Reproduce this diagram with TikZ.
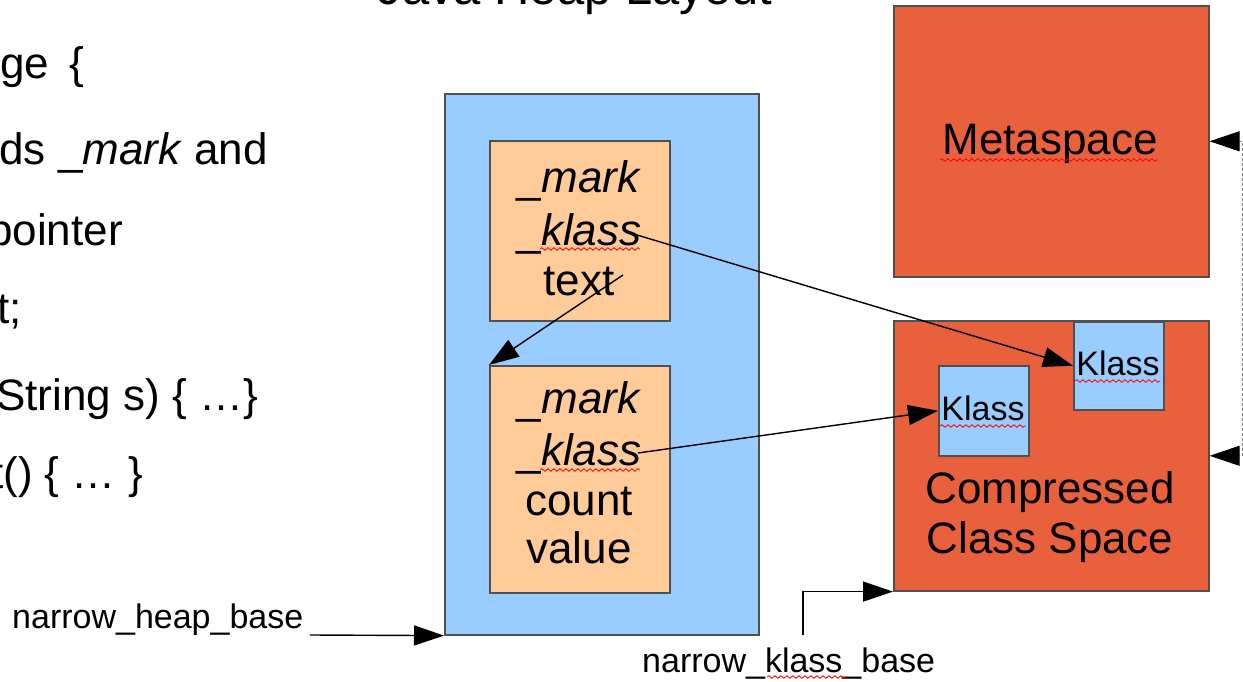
\documentclass[tikz,border=0pt]{standalone}
\usepackage{fontspec}
\setmainfont{Liberation Sans}
\usetikzlibrary{arrows.meta,decorations.pathmorphing}
\definecolor{heapblue}{RGB}{153,204,255}
\definecolor{objorange}{RGB}{255,204,153}
\definecolor{metared}{RGB}{233,96,61}
\definecolor{edgegray}{RGB}{80,80,80}
\begin{document}
\begin{tikzpicture}[x=1pt,y=-1pt,
  big/.style={font=\fontsize{44}{50}\selectfont, inner sep=0pt},
  small/.style={font=\fontsize{34}{40}\selectfont, inner sep=0pt},
  box/.style={draw=edgegray, line width=1.6pt, inner sep=0pt, anchor=north west},
  conn/.style={line width=1.4pt, -{Triangle[length=30pt,width=20pt]}},
  squig/.style={draw=red, line width=0.8pt, decorate, decoration={snake, amplitude=1.3pt, segment length=6pt}},
  bracket/.style={draw=gray, line width=1pt, dash pattern=on 3pt off 2pt,
    {Triangle[length=30pt,width=20pt,color=black,fill=black]}-{Triangle[length=30pt,width=20pt,color=black,fill=black]}}]
\useasboundingbox (0,0) rectangle (1243,682);
\clip (0,0) rectangle (1243,682);
% title (cut at top)
\node[font=\fontsize{49}{55}\selectfont, anchor=base, inner sep=0pt] (title) at (575,5) {Java Heap Layout};
% left code text (cut at left)
\node[big, anchor=base west] (c1) at (0,79) {ge\hspace{20pt}\{};
\node[big, anchor=base east] (c2) at (268,165) {ds \_\textit{mark} and};
\node[big, anchor=base east] (c3) at (123,245) {pointer};
\node[big, anchor=base east] (c4) at (22,323) {t;};
\node[big, anchor=base east] (c5) at (258,410) {String s) \{ …\}};
\node[big, anchor=base east] (c6) at (143,488) {t() \{ … \}};
% boxes
\node[box, fill=heapblue, minimum width=314pt, minimum height=541pt] (heap) at (444,93) {};
\node[box, fill=objorange, minimum width=180pt, minimum height=180pt] (obj1) at (489,140) {};
\node[box, fill=objorange, minimum width=180pt, minimum height=227pt] (obj2) at (489,365) {};
\node[box, fill=metared, minimum width=315pt, minimum height=271pt] (meta) at (893,5) {};
\node[box, fill=metared, minimum width=315pt, minimum height=270pt] (ccs) at (893,320) {};
\node[box, fill=heapblue, minimum width=90pt, minimum height=88pt] (klassA) at (1073,321) {};
\node[box, fill=heapblue, minimum width=90pt, minimum height=90pt] (klassB) at (938,365) {};
% texts in boxes
\node[big, anchor=base] (m1) at (579,193) {\_\textit{mark}};
\node[big, anchor=base] (k1) at (579,245) {\_\textit{klass}};
\node[big, anchor=base] (t1) at (579,295) {text};
\node[big, anchor=base] (m2) at (579,413) {\_\textit{mark}};
\node[big, anchor=base] (k2) at (579,465) {\_\textit{klass}};
\node[big, anchor=base] (n2) at (579,515) {count};
\node[big, anchor=base] (v2) at (579,563) {value};
\node[big, anchor=base] (metatext) at (1050,155) {Metaspace};
\node[big, anchor=base] (ccs1) at (1050,503) {Compressed};
\node[big, anchor=base] (ccs2) at (1050,553) {Class Space};
\node[small, anchor=base] (kt1) at (1118,375) {Klass};
\node[small, anchor=base] (kt2) at (983,420) {Klass};
% labels
\node[small, anchor=base west] (nhb) at (12,628) {narrow\_heap\_base};
\node[small, anchor=base west] (nkb) at (642,672) {narrow\_klass\_base};
% spell-check squiggles
\draw[squig] (540,249) -- (640,249);
\draw[squig] (540,470) -- (640,470);
\draw[squig] (940,160) -- (1158,160);
\draw[squig] (1075,381) -- (1160,381);
\draw[squig] (940,426) -- (1026,426);
\draw[squig] (767,677) -- (847,677);
% connector start points
\coordinate (s1) at (637,235);
\coordinate (s2) at (623,275);
\coordinate (s3) at (638,453);
\coordinate (hb) at (310,635);
\coordinate (kb) at (803,635);
% connectors
\draw[conn] (s1) -- (klassA.west);
\draw[conn] (s2) -- (obj2.north west);
\draw[conn] (s3) -- (klassB.west);
\draw[conn] (hb) -- (heap.south west);
\draw[conn] (kb) |- (ccs.south west);
\draw[bracket] (meta.east) -- ++(33,0) |- (ccs.east);
\end{tikzpicture}
\end{document}
